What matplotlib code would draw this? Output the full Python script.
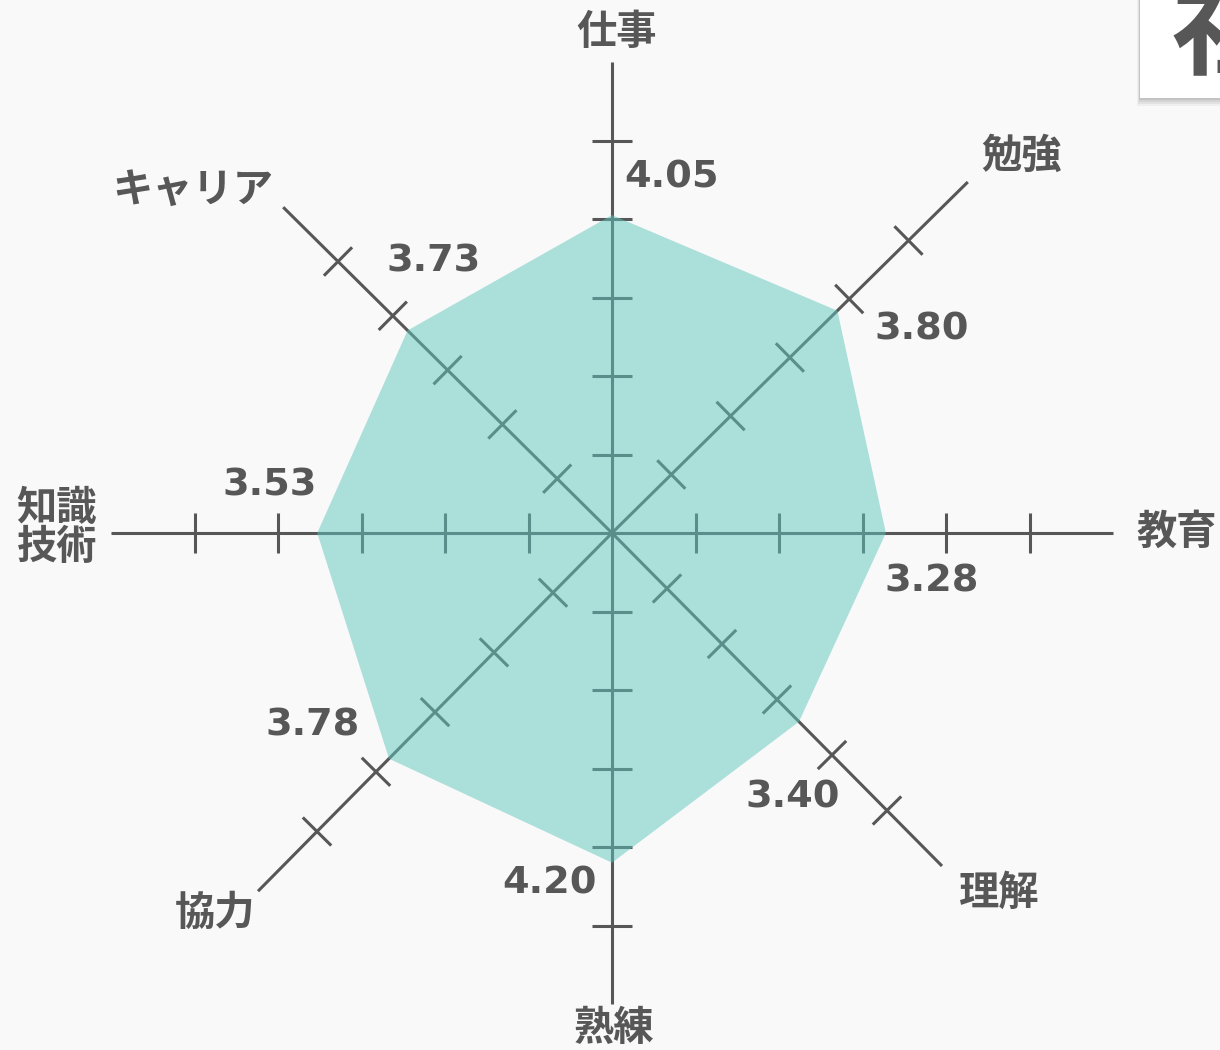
import numpy as np
import matplotlib.pyplot as plt
from matplotlib.patches import Rectangle, Polygon

# chart data (clockwise from the top spoke)
labels = ['仕事', '勉強', '教育', '理解', '熟練', '協力', '知識\n技術', 'キャリア']
scores = [4.05, 3.80, 3.28, 3.40, 4.20, 3.78, 3.53, 3.73]
tick_values = [1, 2, 3, 4, 5]
axis_max = 6
card_text = '社'

# layout (pixels, screen y grows downward)
W, H = 1220, 1050
cx, cy = 612, 533
# length of one score unit along each spoke
spoke_px = [(0, -78.5), (59.3, -58.5), (83.5, 0), (55.0, 55.5),
            (0, 78.5), (-59.0, 59.7), (-83.5, 0), (-54.8, -54.3)]
label_off = [(5, -501), (410, -377), (565, -1), (387, 360),
             (2, 496), (-397, 380), (-555, -5), (-419, -343)]
value_off = [(60, -38), (84, 19), (46, 49), (-6, 76),
             (-62, 21), (-76, -33), (-48, -48), (26, -69)]

INK = '#575757'
FILL = (93 / 255, 198 / 255, 189 / 255)
BG = '#f9f9f9'

fig = plt.figure(figsize=(W / 100, H / 100), dpi=100)
fig.patch.set_facecolor(BG)
ax = fig.add_axes([0, 0, 1, 1])
ax.set_xlim(0, W)
ax.set_ylim(H, 0)
ax.axis('off')

# spokes and tick marks
for (ux, uy) in spoke_px:
    ax.plot([cx, cx + axis_max * ux], [cy, cy + axis_max * uy],
            color=INK, lw=2.2, solid_capstyle='butt', zorder=2)
    n = np.hypot(ux, uy)
    px, py = -uy / n * 20, ux / n * 20
    for t in tick_values:
        tx, ty = cx + t * ux, cy + t * uy
        ax.plot([tx - px, tx + px], [ty - py, ty + py],
                color=INK, lw=2.2, solid_capstyle='butt', zorder=2)

# score polygon
verts = [(cx + s * ux, cy + s * uy) for s, (ux, uy) in zip(scores, spoke_px)]
ax.add_patch(Polygon(verts, closed=True, facecolor=FILL, alpha=0.5,
                     edgecolor='none', zorder=3))

# category labels
for lab, (ox, oy) in zip(labels, label_off):
    ax.text(cx + ox, cy + oy, lab, ha='center', va='center',
            fontsize=29, fontweight='bold', color=INK,
            family=['Noto Sans CJK JP', 'DejaVu Sans'],
            linespacing=0.95, zorder=5)

# score labels
for s, (vx, vy), (ox, oy) in zip(scores, verts, value_off):
    ax.text(vx + ox, vy + oy, f'{s:.2f}', ha='center', va='center',
            fontsize=27.5, fontweight='bold', color=INK,
            family='DejaVu Sans', zorder=5)

# partial card in the top right corner
for i, a in enumerate([0.04, 0.05, 0.06, 0.08]):
    d = 8 - 2 * i
    ax.add_patch(Rectangle((1140 - d / 3, 0), 90 + d, 98 + d,
                           facecolor='black', alpha=a, edgecolor='none', zorder=6))
ax.add_patch(Rectangle((1140, 0), 90, 98, facecolor='white',
                       edgecolor='none', zorder=7))
ax.text(1172, 66, card_text, ha='left', va='baseline', fontsize=80,
        fontweight='bold', color=INK, family=['Noto Sans CJK JP'], zorder=8)

fig.savefig('out.png', dpi=100, facecolor=BG)
